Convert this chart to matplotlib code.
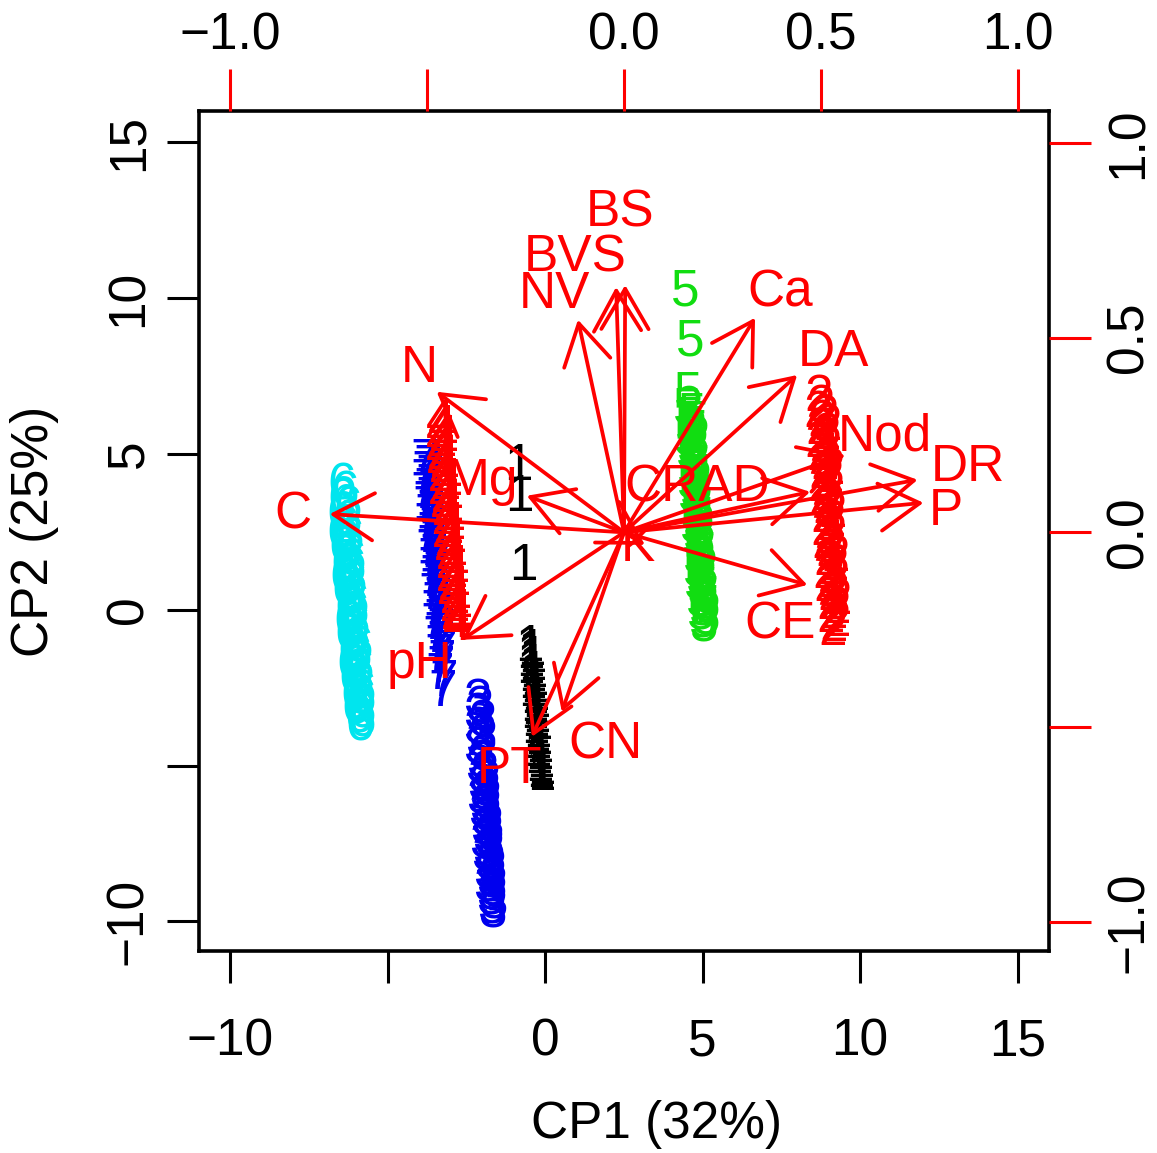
import matplotlib
matplotlib.use("Agg")
import matplotlib.pyplot as plt
from matplotlib.patches import FancyArrowPatch

plt.rcParams["font.family"] = ["Liberation Sans", "DejaVu Sans"]

# ---- scores (CP1, CP2) by group ----
g1_x = [-0.87, -0.81, -0.71,
        -0.49, -0.45, -0.48, -0.41, -0.48, -0.42, -0.47, -0.39, -0.42, -0.35, -0.42, -0.36,
        -0.41, -0.33, -0.36, -0.29, -0.36, -0.30, -0.35, -0.27, -0.30, -0.23, -0.30, -0.24,
        -0.29, -0.21, -0.24, -0.18, -0.24, -0.18, -0.22, -0.15, -0.18, -0.14, -0.15, -0.14]
g1_y = [4.60, 3.61, 1.37,
        -1.21, -1.33, -1.45, -1.57, -1.69, -1.81, -1.93, -2.05, -2.17, -2.29, -2.41, -2.53,
        -2.65, -2.77, -2.89, -3.01, -3.13, -3.25, -3.37, -3.49, -3.61, -3.73, -3.85, -3.97,
        -4.09, -4.21, -4.33, -4.45, -4.57, -4.69, -4.81, -4.93, -5.05, -5.17, -5.27, -5.35]

g2_x = [8.67, 8.74, 8.66, 8.87, 8.78, 8.98, 8.73, 8.94, 8.85, 8.70, 8.98, 8.81,
        8.74, 8.95, 8.86, 9.06, 8.81, 9.02, 8.93, 8.78, 9.06, 8.89, 8.82, 9.03,
        8.94, 9.14, 8.89, 9.10, 9.01, 8.86, 9.14, 8.97, 8.90, 9.11, 9.02, 9.22,
        8.97, 9.18, 9.09, 8.94, 9.22, 9.05, 8.98, 9.19, 9.10, 9.30, 9.05, 9.26,
        9.17, 9.08, 9.26, 9.15, 9.14]
g2_y = [6.82, 6.50, 6.30, 6.16, 6.02, 5.88, 5.74, 5.60, 5.46, 5.32, 5.18, 5.04,
        4.90, 4.76, 4.62, 4.48, 4.34, 4.20, 4.06, 3.92, 3.78, 3.64, 3.50, 3.36,
        3.22, 3.08, 2.94, 2.80, 2.66, 2.52, 2.38, 2.24, 2.10, 1.96, 1.82, 1.68,
        1.54, 1.40, 1.26, 1.12, 0.98, 0.84, 0.70, 0.56, 0.42, 0.28, 0.14, 0.00,
        -0.14, -0.28, -0.42, -0.56, -0.69]

g3_x = [-2.17, -2.08, -2.16, -2.00, -2.17, -2.00, -2.08, -2.17, -1.97, -2.07, -2.11,
        -1.94, -2.02, -1.87, -2.04, -1.88, -1.96, -2.06, -1.86, -1.97, -2.01, -1.84,
        -1.92, -1.77, -1.94, -1.78, -1.86, -1.96, -1.76, -1.87, -1.91, -1.74, -1.82,
        -1.69, -1.84, -1.69, -1.76, -1.84, -1.67, -1.76, -1.76, -1.66, -1.72, -1.69]
g3_y = [-2.97, -3.19, -3.41, -3.63, -3.85, -4.07, -4.29, -4.51, -4.73, -4.95, -5.12,
        -5.28, -5.42, -5.56, -5.70, -5.84, -5.98, -6.12, -6.26, -6.40, -6.54, -6.68,
        -6.82, -6.96, -7.10, -7.24, -7.38, -7.52, -7.66, -7.80, -7.94, -8.08, -8.22,
        -8.36, -8.50, -8.64, -8.78, -8.92, -9.06, -9.20, -9.34, -9.48, -9.62, -9.77]

g4_x = [-3.35, -3.28, -3.34, -3.22, -3.35, -3.22, -3.27, -3.35, -3.19, -3.27, -3.30, -3.17,
        -3.22, -3.10, -3.23, -3.10, -3.16, -3.24, -3.07, -3.15, -3.18, -3.05, -3.11, -2.98,
        -3.11, -2.98, -3.04, -3.12, -2.96, -3.03, -3.06, -2.93, -2.99, -2.87, -3.00, -2.86,
        -2.92, -3.00, -2.84, -2.92, -2.95, -2.81, -2.87, -2.78, -2.87, -2.79, -2.84, -2.80]
g4_y = [6.02, 5.84, 5.68, 5.54, 5.40, 5.26, 5.12, 4.98, 4.84, 4.70, 4.56, 4.42,
        4.28, 4.14, 4.00, 3.86, 3.72, 3.58, 3.44, 3.30, 3.16, 3.02, 2.88, 2.74,
        2.60, 2.46, 2.32, 2.18, 2.04, 1.90, 1.76, 1.62, 1.48, 1.34, 1.20, 1.06,
        0.92, 0.78, 0.64, 0.50, 0.36, 0.22, 0.08, -0.06, -0.20, -0.34, -0.45, -0.53]

g5_x = [4.44, 4.60, 4.54,
        4.50, 4.67, 4.60, 4.75, 4.56, 4.72, 4.65, 4.54, 4.77, 4.64, 4.59, 4.76, 4.69,
        4.84, 4.65, 4.82, 4.75, 4.64, 4.87, 4.74, 4.68, 4.85, 4.78, 4.93, 4.74, 4.91,
        4.84, 4.73, 4.96, 4.83, 4.78, 4.95, 4.88, 5.03, 4.84, 5.00, 4.93, 4.82, 5.05,
        4.92, 4.87, 5.04, 4.97, 5.12, 4.93, 5.10, 5.03, 4.96, 5.11, 5.03, 5.06]
g5_y = [10.19, 8.58, 6.91,
        6.40, 6.26, 6.12, 5.98, 5.84, 5.70, 5.56, 5.42, 5.28, 5.14, 5.00, 4.86, 4.72,
        4.58, 4.44, 4.30, 4.16, 4.02, 3.88, 3.74, 3.60, 3.46, 3.32, 3.18, 3.04, 2.90,
        2.76, 2.62, 2.48, 2.34, 2.20, 2.06, 1.92, 1.78, 1.64, 1.50, 1.36, 1.22, 1.08,
        0.94, 0.80, 0.66, 0.52, 0.38, 0.24, 0.10, -0.04, -0.18, -0.32, -0.44, -0.56]

g6_x = [-6.47, -6.37, -6.46, -6.28, -6.49, -6.27, -6.37, -6.49, -6.22, -6.39, -6.44,
        -6.23, -6.33, -6.15, -6.37, -6.16, -6.26, -6.39, -6.11, -6.28, -6.33, -6.12,
        -6.22, -6.04, -6.26, -6.05, -6.15, -6.28, -6.01, -6.18, -6.23, -6.02, -6.12,
        -5.94, -6.16, -5.95, -6.05, -6.18, -5.91, -6.08, -6.13, -5.91, -6.01, -5.83,
        -6.05, -5.84, -5.94, -6.03, -5.84, -5.94, -5.84, -5.90]
g6_y = [3.96, 3.72, 3.48, 3.24, 3.00, 2.78, 2.58, 2.40, 2.24, 2.10, 1.96,
        1.82, 1.68, 1.54, 1.40, 1.26, 1.12, 0.98, 0.84, 0.70, 0.56, 0.42,
        0.28, 0.14, 0.00, -0.14, -0.28, -0.42, -0.56, -0.70, -0.84, -0.98, -1.12,
        -1.26, -1.40, -1.54, -1.68, -1.82, -1.96, -2.10, -2.24, -2.38, -2.52, -2.66,
        -2.80, -2.94, -3.08, -3.22, -3.36, -3.50, -3.64, -3.77]

g7_x = [-3.82, -3.74, -3.81, -3.68, -3.83, -3.68, -3.75, -3.84, -3.66, -3.76,
        -3.78, -3.63, -3.70, -3.57, -3.72, -3.57, -3.64, -3.73, -3.55, -3.65,
        -3.68, -3.53, -3.60, -3.46, -3.61, -3.46, -3.53, -3.62, -3.44, -3.54,
        -3.57, -3.42, -3.49, -3.36, -3.51, -3.35, -3.42, -3.51, -3.33, -3.43,
        -3.46, -3.31, -3.38, -3.27, -3.39, -3.28, -3.31, -3.35, -3.24, -3.25]
g7_y = [4.76, 4.55, 4.38, 4.24, 4.10, 3.96, 3.82, 3.68, 3.54, 3.40,
        3.26, 3.12, 2.98, 2.84, 2.70, 2.56, 2.42, 2.28, 2.14, 2.00,
        1.86, 1.72, 1.58, 1.44, 1.30, 1.16, 1.02, 0.88, 0.74, 0.60,
        0.46, 0.32, 0.18, 0.04, -0.10, -0.24, -0.38, -0.52, -0.66, -0.80,
        -0.94, -1.08, -1.22, -1.36, -1.50, -1.68, -1.88, -2.10, -2.35, -2.65]

groups = ["1", "2", "3", "7", "4", "5", "6"]
group_colors = {"1": "#000000", "2": "#FF0000", "3": "#0000EE", "4": "#FF0000",
                "5": "#11DD11", "6": "#00E5EE", "7": "#0000EE"}
scores = {"1": (g1_x, g1_y), "2": (g2_x, g2_y), "3": (g3_x, g3_y), "4": (g4_x, g4_y),
          "5": (g5_x, g5_y), "6": (g6_x, g6_y), "7": (g7_x, g7_y)}

# ---- variable loadings (arrow tips) and label positions ----
variables = ["BS", "BVS", "NV", "Ca", "DA", "N", "Nod", "DR", "P", "Mg", "C",
             "CRAD", "K", "CE", "pH", "PT", "CN"]
load_x = [0.003, -0.020, -0.117, 0.333, 0.440, -0.476, 0.562, 0.746, 0.761, -0.247, -0.748,
          0.473, 0.053, 0.466, -0.412, -0.234, -0.158]
load_y = [0.635, 0.630, 0.546, 0.551, 0.404, 0.361, 0.199, 0.135, 0.076, 0.094, 0.047,
          0.104, -0.032, -0.135, -0.276, -0.525, -0.461]
label_x = [-0.010, -0.125, -0.176, 0.397, 0.532, -0.519, 0.664, 0.875, 0.817, -0.359, -0.842,
           0.186, 0.036, 0.397, -0.519, -0.290, -0.048]
label_y = [0.820, 0.705, 0.610, 0.615, 0.463, 0.422, 0.245, 0.166, 0.053, 0.130, 0.045,
           0.114, -0.040, -0.237, -0.340, -0.610, -0.546]

MINUS = "\u2212"
score_ticks = [-10, -5, 0, 5, 10, 15]
score_ticklabels = [MINUS + "10", "", "0", "5", "10", "15"]
load_ticks = [-1.0, -0.5, 0.0, 0.5, 1.0]
load_ticklabels = [MINUS + "1.0", "", "0.0", "0.5", "1.0"]

FS = 37
W, H = 1157, 1153
fig = plt.figure(figsize=(W / 100, H / 100), dpi=100)
rect = [199 / W, (H - 951) / H, 850 / W, 840 / H]

ax = fig.add_axes(rect)
ax.set_xlim(-11.0, 16.0)
ax.set_ylim(-10.95, 16.0)
for s in ax.spines.values():
    s.set_linewidth(2.6)
ax.set_xticks(score_ticks)
ax.set_xticklabels(score_ticklabels)
ax.set_yticks(score_ticks)
ax.set_yticklabels(score_ticklabels)
ax.tick_params(axis="both", direction="out", length=23, width=2.2, labelsize=FS, pad=25)
ax.tick_params(axis="y", labelrotation=90, pad=10)
for lab in ax.get_yticklabels():
    lab.set_va("center")

for g in groups:
    xs, ys = scores[g]
    for x, y in zip(xs, ys):
        ax.text(x, y, g, color=group_colors[g], fontsize=FS, ha="center", va="center")

ax.set_xlabel("CP1 (32%)", fontsize=FS)
ax.xaxis.set_label_coords(0.538, -0.177)
ax.set_ylabel("CP2 (25%)", fontsize=FS, va="center")
ax.yaxis.set_label_coords(-0.193, 0.5)

# loadings on a second coordinate system (top and right axes)
ax2 = fig.add_axes(rect, frameon=False)
ax2.set_xlim(-1.08, 1.08)
ax2.set_ylim(-1.075, 1.082)
ax2.xaxis.tick_top()
ax2.yaxis.tick_right()
ax2.set_xticks(load_ticks)
ax2.set_xticklabels(load_ticklabels)
ax2.set_yticks(load_ticks)
ax2.set_yticklabels(load_ticklabels)
ax2.tick_params(axis="both", direction="out", length=30, width=2.2, color="#FF0000",
                labelcolor="black", labelsize=FS, pad=6)
ax2.tick_params(axis="y", labelrotation=90, pad=10)
for lab in ax2.get_yticklabels():
    lab.set_va("center")

for name, lx, ly, tx, ty in zip(variables, load_x, load_y, label_x, label_y):
    arr = FancyArrowPatch((0, 0), (lx, ly),
                          arrowstyle="->,head_length=29,head_width=17",
                          mutation_scale=1, color="#FF0000", lw=2.7,
                          shrinkA=0, shrinkB=0, capstyle="round", joinstyle="round")
    ax2.add_patch(arr)
    ax2.text(tx, ty, name, color="#FF0000", fontsize=FS, ha="center", va="center")

fig.savefig("out.png", dpi=100)
